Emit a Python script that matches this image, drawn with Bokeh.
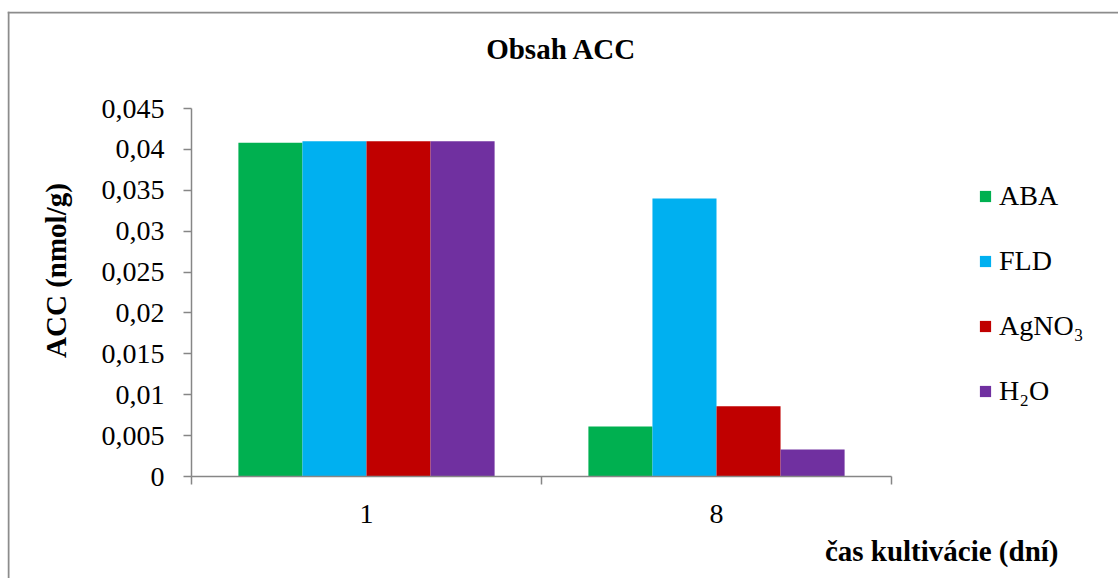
from bokeh.plotting import figure
from bokeh.models import (FixedTicker, CustomJSTickFormatter, Legend, LegendItem,
                          Label, Span, Range1d)
from bokeh.embed import file_html
from bokeh.resources import INLINE

# ---- data ----
days = ["1", "8"]
series = ["ABA", "FLD", "AgNO₃", "H₂O"]
aba = [0.0408, 0.0061]
fld = [0.0410, 0.0340]
agno3 = [0.0410, 0.0086]
h2o = [0.0410, 0.0033]
values = [aba, fld, agno3, h2o]
colors = ["#00B050", "#00B0F0", "#C00000", "#7030A0"]
y_ticks = [0, 0.005, 0.01, 0.015, 0.02, 0.025, 0.03, 0.035, 0.04, 0.045]
title_text = "Obsah ACC"
y_title = "ACC (nmol/g)"
x_title = "čas kultivácie (dní)"

FONT = "Liberation Serif"
AX = "#868686"
YMAX = 0.045

# ---- layout constants (canvas pixels) ----
W, H = 1118, 578
FL, FT = 7, 11            # frame left/top (frame covers the rest of the canvas)
AX0, AX1 = 191, 891       # x pixels of plot-area left/right
AY0, AY1 = 476, 108       # y pixels of value 0 and YMAX
sx = len(days) / (AX1 - AX0)      # data units per px (x)
sy = YMAX / (AY0 - AY1)           # data units per px (y)


def dx(px):
    return (px - AX0) * sx


def dy(py):
    return (AY0 - py) * sy


p = figure(width=W, height=H, output_backend="svg", toolbar_location=None,
           x_range=Range1d(dx(FL), dx(W)), y_range=Range1d(dy(H), dy(FT)),
           min_border_left=FL, min_border_top=FT, min_border_right=0,
           min_border_bottom=0)
p.outline_line_color = None
p.background_fill_color = "white"
p.border_fill_color = "white"
p.grid.visible = False

# bars
w = 0.183
n = len(series)
items = []
for k, (name, vals, col) in enumerate(zip(series, values, colors)):
    xs = [i + 0.5 + (k - (n - 1) / 2) * w for i in range(len(days))]
    r = p.vbar(x=xs, top=vals, width=w, bottom=0, fill_color=col, line_color=None)
    items.append(LegendItem(label=name, renderers=[r]))

# x axis
xa = p.xaxis[0]
xa.fixed_location = 0
xa.bounds = (0, len(days))
xa.ticker = FixedTicker(ticks=[i + 0.5 for i in range(len(days))],
                        minor_ticks=list(range(len(days) + 1)))
xa.major_label_overrides = {i + 0.5: d for i, d in enumerate(days)}
xa.major_tick_out = 0
xa.major_tick_in = 0
xa.minor_tick_out = 8
xa.minor_tick_in = 0
xa.minor_tick_line_color = AX
xa.minor_tick_line_width = 1.5
xa.axis_line_color = AX
xa.axis_line_width = 1.5
xa.major_label_text_font = FONT
xa.major_label_text_font_size = "28px"
xa.major_label_text_color = "black"
xa.major_label_standoff = 20

# y axis
ya = p.yaxis[0]
ya.fixed_location = 0
ya.bounds = (0, YMAX)
ya.ticker = FixedTicker(ticks=y_ticks)
ya.formatter = CustomJSTickFormatter(code="""
let s = tick.toFixed(3).replace(/0+$/, '').replace(/\\.$/, '');
return s.replace('.', ',');
""")
ya.major_tick_out = 8
ya.major_tick_in = 0
ya.minor_tick_out = 0
ya.minor_tick_in = 0
ya.major_tick_line_color = AX
ya.major_tick_line_width = 1.5
ya.axis_line_color = AX
ya.axis_line_width = 1.5
ya.major_label_text_font = FONT
ya.major_label_text_font_size = "28px"
ya.major_label_text_color = "black"
ya.major_label_standoff = 19

# title and axis titles
p.add_layout(Label(x=dx(561), y=dy(48), text=title_text, text_align="center",
                   text_baseline="middle", text_font=FONT, text_font_size="29px",
                   text_font_style="bold", text_color="black"))
p.add_layout(Label(x=dx(55), y=dy(270), text=y_title, angle=1.5707963,
                   text_align="center", text_baseline="middle", text_font=FONT,
                   text_font_size="29px", text_font_style="bold",
                   text_color="black"))
p.add_layout(Label(x=dx(1058), y=dy(550), text=x_title, text_align="right",
                   text_baseline="middle", text_font=FONT, text_font_size="29px",
                   text_font_style="bold", text_color="black"))

# outer chart border (top and left edges)
p.add_layout(Span(location=dy(12), dimension="width", line_color="#8c8c8c",
                  line_width=2))
p.add_layout(Span(location=dx(8), dimension="height", line_color="#8c8c8c",
                  line_width=2))

# legend (location = bottom-left corner, px from frame's bottom-left)
legend = Legend(items=items, location=(978 - FL, H - 411.5), orientation="vertical",
                glyph_width=14, glyph_height=14, label_height=41, spacing=24,
                label_standoff=7, padding=0, margin=0,
                border_line_color=None, background_fill_alpha=0,
                label_text_font=FONT, label_text_font_size="28px",
                label_text_color="black")
p.add_layout(legend, "center")

open("out.html", "w").write(file_html(p, INLINE))
